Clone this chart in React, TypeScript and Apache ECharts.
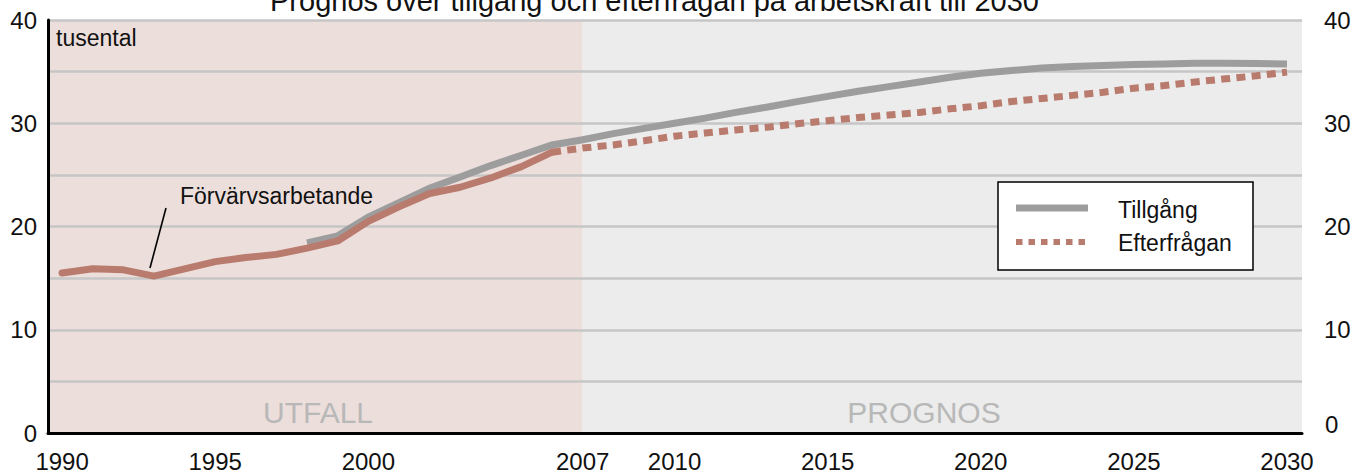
import React, { useEffect, useRef } from "react";
import * as echarts from "echarts";

const FONT = "'Liberation Sans', Arial, sans-serif";

const titleText = "Prognos över tillgång och efterfrågan på arbetskraft till 2030";
const unitText = "tusental";
const seriesNames = ["Tillgång", "Efterfrågan", "Förvärvsarbetande"];
const periodLabels = ["UTFALL", "PROGNOS"];

const xTickLabels = [1990, 1995, 2000, 2007, 2010, 2015, 2020, 2025, 2030];
const yTickLabels = [0, 10, 20, 30, 40];
const forecastStart = 2007;

const histYears = [1990, 1991, 1992, 1993, 1994, 1995, 1996, 1997, 1998, 1999, 2000, 2001, 2002, 2003, 2004, 2005, 2006];
const forvarvsarbetande = [15.5, 15.9, 15.8, 15.2, 15.9, 16.6, 17.0, 17.3, 17.9, 18.6, 20.5, 21.9, 23.2, 23.8, 24.7, 25.8, 27.2];

const tillgangYears = [1998, 1999, 2000, 2001, 2002, 2003, 2004, 2005, 2006, 2007, 2008, 2009, 2010, 2011, 2012, 2013, 2014, 2015, 2016, 2017, 2018, 2019, 2020, 2021, 2022, 2023, 2024, 2025, 2026, 2027, 2028, 2029, 2030];
const tillgang = [18.4, 19.1, 20.9, 22.3, 23.7, 24.8, 25.9, 26.9, 27.9, 28.4, 29.0, 29.5, 30.0, 30.5, 31.05, 31.55, 32.1, 32.6, 33.1, 33.55, 34.0, 34.45, 34.85, 35.1, 35.35, 35.5, 35.6, 35.7, 35.75, 35.8, 35.8, 35.78, 35.75];

const efterfraganYears = [2006, 2007, 2008, 2009, 2010, 2011, 2012, 2013, 2014, 2015, 2016, 2017, 2018, 2019, 2020, 2021, 2022, 2023, 2024, 2025, 2026, 2027, 2028, 2029, 2030];
const efterfragan = [27.2, 27.6, 27.9, 28.3, 28.75, 29.05, 29.35, 29.6, 29.95, 30.25, 30.55, 30.8, 31.05, 31.4, 31.7, 32.1, 32.4, 32.7, 33.0, 33.4, 33.65, 34.0, 34.3, 34.6, 34.95];

const X_MIN = 1989.54;
const X_MAX = 2030.49;

const GREY = "#9d9d9d";
const BROWN = "#b97b6e";
const LABEL_SIZE = 24;

export default function App() {
  const ref = useRef<HTMLDivElement>(null);

  useEffect(() => {
    if (!ref.current) return;
    const chart = echarts.init(ref.current, undefined, { renderer: "svg" });
    const zip = (xs: number[], ys: number[]) => xs.map((x, i) => [x, ys[i]]);

    chart.setOption({
      animation: false,
      backgroundColor: "#ffffff",
      title: {
        text: titleText,
        left: 265,
        top: -19,
        textStyle: { fontFamily: FONT, fontSize: 29, fontWeight: "normal", color: "#111" },
      },
      grid: { left: 48, right: 53, top: 20, bottom: 38, containLabel: false },
      xAxis: {
        type: "value",
        min: X_MIN,
        max: X_MAX,
        z: 6,
        splitLine: { show: false },
        axisTick: { show: false },
        axisLine: { show: true, onZero: false, lineStyle: { color: "#000", width: 3 } },
        axisLabel: {
          customValues: xTickLabels,
          formatter: (v: number) => String(Math.round(v)),
          fontFamily: FONT,
          fontSize: LABEL_SIZE,
          color: "#111",
          margin: 16,
        },
      },
      yAxis: [
        {
          type: "value",
          min: 0,
          max: 40,
          interval: 5,
          z: 3,
          axisLine: { show: true, lineStyle: { color: "#000", width: 3 } },
          axisTick: { show: false },
          splitLine: { show: true, lineStyle: { color: "#c6c6c6", width: 2.5 } },
          axisLabel: {
            customValues: yTickLabels,
            fontFamily: FONT,
            fontSize: LABEL_SIZE,
            color: "#111",
            margin: 11,
          },
        },
        {
          type: "value",
          min: 0,
          max: 40,
          interval: 10,
          position: "right",
          axisLine: { show: false },
          axisTick: { show: false },
          splitLine: { show: false },
          axisLabel: {
            formatter: (v: number) => (v === 0 ? "" : String(v)),
            fontFamily: FONT,
            fontSize: LABEL_SIZE,
            color: "#111",
            margin: 22,
          },
        },
      ],
      series: [
        {
          type: "line",
          name: "bg",
          z: 1,
          data: [],
          silent: true,
          markArea: {
            z: 1,
            silent: true,
            data: [
              [{ xAxis: X_MIN, itemStyle: { color: "#ecdedb" } }, { xAxis: forecastStart }],
              [{ xAxis: forecastStart, itemStyle: { color: "#ebeceb" } }, { xAxis: X_MAX }],
            ],
          },
        },
        {
          type: "line",
          name: seriesNames[0],
          z: 5,
          data: zip(tillgangYears, tillgang),
          showSymbol: false,
          symbol: "none",
          lineStyle: { color: GREY, width: 7, cap: "butt", join: "miter" },
        },
        {
          type: "line",
          name: seriesNames[1],
          z: 6,
          data: zip(efterfraganYears, efterfragan),
          showSymbol: false,
          symbol: "none",
          lineStyle: { color: BROWN, width: 7, type: [9, 6.3], cap: "butt" },
        },
        {
          type: "line",
          name: seriesNames[2],
          z: 7,
          data: zip(histYears, forvarvsarbetande),
          showSymbol: false,
          symbol: "none",
          lineStyle: { color: BROWN, width: 7, cap: "round", join: "round" },
        },
      ],
      graphic: [
        {
          type: "text",
          left: 56,
          top: 26,
          z: 10,
          style: { text: unitText, fontFamily: FONT, fontSize: 23, fill: "#111" },
        },
        {
          type: "text",
          x: 318,
          y: 412,
          z: 10,
          style: { text: periodLabels[0], fontFamily: FONT, fontSize: 30, fill: "#b8b8b8", align: "center", verticalAlign: "middle" },
        },
        {
          type: "text",
          x: 924,
          y: 412,
          z: 10,
          style: { text: periodLabels[1], fontFamily: FONT, fontSize: 30, fill: "#b8b8b8", align: "center", verticalAlign: "middle" },
        },
        {
          type: "text",
          x: 180,
          y: 196,
          z: 10,
          style: { text: seriesNames[2], fontFamily: FONT, fontSize: 23, fill: "#111", verticalAlign: "middle" },
        },
        {
          type: "line",
          z: 10,
          shape: { x1: 166, y1: 208, x2: 150, y2: 268 },
          style: { stroke: "#000", lineWidth: 1.6 },
        },
        {
          type: "text",
          x: 1325,
          y: 424,
          z: 10,
          style: { text: "0", fontFamily: FONT, fontSize: LABEL_SIZE, fill: "#111", verticalAlign: "middle" },
        },
        {
          type: "rect",
          z: 20,
          shape: { x: 998, y: 182, width: 255, height: 88 },
          style: { fill: "#ffffff", stroke: "#000000", lineWidth: 1.5 },
        },
        {
          type: "line",
          z: 21,
          shape: { x1: 1016, y1: 208, x2: 1088, y2: 208 },
          style: { stroke: GREY, lineWidth: 7 },
        },
        {
          type: "line",
          z: 21,
          shape: { x1: 1016, y1: 242, x2: 1090, y2: 242 },
          style: { stroke: BROWN, lineWidth: 6, lineDash: [6.5, 6] },
        },
        {
          type: "text",
          z: 21,
          x: 1118,
          y: 210,
          style: { text: seriesNames[0], fontFamily: FONT, fontSize: 23, fill: "#111", verticalAlign: "middle" },
        },
        {
          type: "text",
          z: 21,
          x: 1118,
          y: 243,
          style: { text: seriesNames[1], fontFamily: FONT, fontSize: 23, fill: "#111", verticalAlign: "middle" },
        },
      ],
    });

    return () => chart.dispose();
  }, []);

  return (
    <div
      ref={ref}
      style={{ position: "fixed", left: 0, top: 0, width: 1355, height: 473 }}
    />
  );
}
